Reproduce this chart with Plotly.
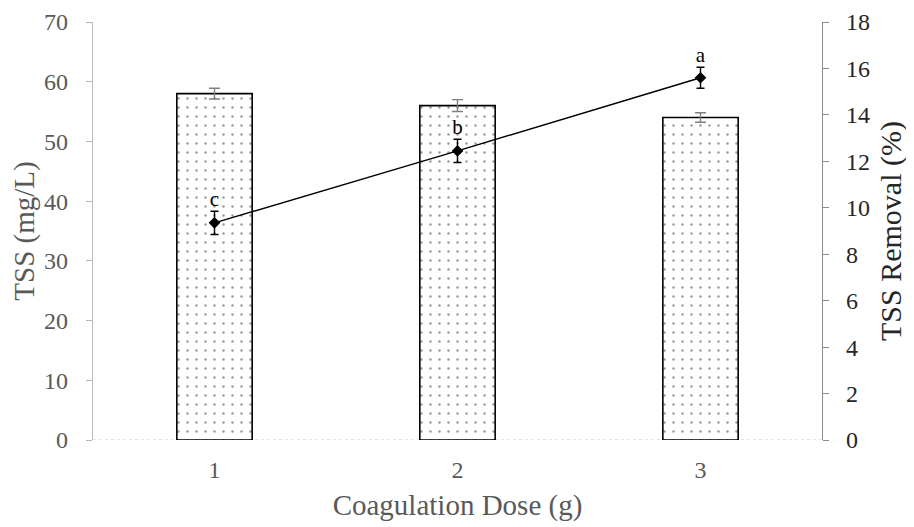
import plotly.graph_objects as go

doses = [1, 2, 3]
tss = [58, 56, 54]
tss_err = [0.9, 1.0, 0.8]
removal = [9.35, 12.45, 15.6]
removal_err = [0.5, 0.5, 0.45]
letters = ["c", "b", "a"]

FONT = "Liberation Serif, Times New Roman, serif"
GREY = "#595959"
DARK = "#262626"

fig = go.Figure()
fig.add_trace(go.Bar(
    x=doses, y=tss, width=0.31,
    marker=dict(color="white", line=dict(color="black", width=1.6),
                pattern=dict(shape=".", fgcolor="#333333", bgcolor="white", size=9, solidity=0.06)),
    error_y=dict(type="data", array=tss_err, color="#808080", thickness=1.4, width=5.5),
    showlegend=False, yaxis="y"))
fig.add_trace(go.Scatter(
    x=doses, y=removal, mode="lines+markers",
    line=dict(color="black", width=1.5),
    marker=dict(symbol="diamond", size=9, color="black"),
    error_y=dict(type="data", array=removal_err, color="black", thickness=1.4, width=4),
    showlegend=False, yaxis="y2"))
fig.add_trace(go.Scatter(
    x=doses, y=[r + e for r, e in zip(removal, removal_err)], mode="text",
    text=letters, textposition="top center",
    textfont=dict(family=FONT, size=21, color="black"),
    showlegend=False, yaxis="y2", cliponaxis=False))

fig.add_shape(type="line", xref="paper", yref="y", x0=0, x1=1, y0=0, y1=0,
              line=dict(color="#c8c8c8", width=1.2, dash="dot"), layer="below")

fig.update_layout(
    width=906, height=519,
    margin=dict(l=85, r=92, t=14, b=87),
    paper_bgcolor="white", plot_bgcolor="white",
    font=dict(family=FONT, size=24, color=GREY),
    xaxis=dict(range=[0.5, 3.5], tickvals=doses, ticktext=[str(d) for d in doses],
               showgrid=False, zeroline=False, showline=False, automargin=False,
               ticks="", ticklabelstandoff=13, tickfont=dict(color=GREY),
               title=dict(text="Coagulation Dose (g)", font=dict(size=29, color=GREY), standoff=12)),
    yaxis=dict(range=[0, 70], dtick=10, showgrid=False, zeroline=False, automargin=False,
               showline=True, linecolor="#b8b8b8", linewidth=1.2, ticks="outside", ticklen=6,
               tickcolor="#b8b8b8", ticklabelstandoff=13,
               tickfont=dict(color=GREY),
               title=dict(text="TSS (mg/L)", font=dict(size=29, color=GREY), standoff=2)),
    yaxis2=dict(range=[0, 18], dtick=2, overlaying="y", side="right", showgrid=False, zeroline=False,
                automargin=False,
                showline=True, linecolor="#8c8c8c", linewidth=1.2, ticks="outside", ticklen=6,
                tickcolor="#8c8c8c", ticklabelstandoff=12,
                tickfont=dict(color=DARK),
                title=dict(text="TSS Removal (%)", font=dict(size=30, color=DARK), standoff=11)),
)

fig.write_html("out.html")
